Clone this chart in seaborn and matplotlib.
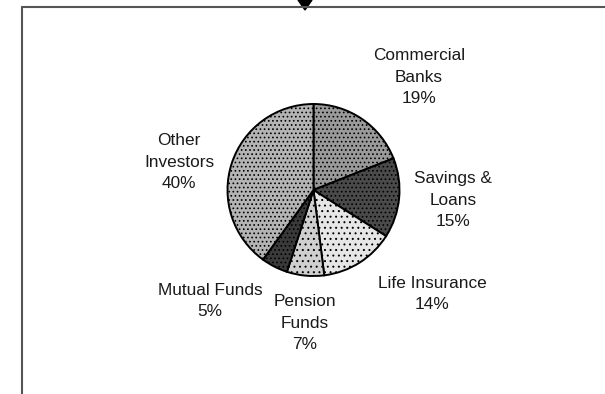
import matplotlib
matplotlib.use("Agg")
import matplotlib.pyplot as plt
import seaborn as sns
from matplotlib.lines import Line2D
from matplotlib.patches import Polygon

sns.set_style("white")
plt.rcParams['font.family'] = ['Liberation Sans', 'DejaVu Sans']
plt.rcParams['hatch.linewidth'] = 0.7

# Data
categories = ["Commercial\nBanks", "Savings &\nLoans", "Life Insurance", "Pension\nFunds", "Mutual Funds", "Other\nInvestors"]
shares = [19, 15, 14, 7, 5, 40]

# Style
face_colors = ["#9a9a9a", "#4a4a4a", "#e6e6e6", "#cfcfcf", "#3a3a3a", "#b4b4b4"]
hatches = ["....", "....", "...", "...", "....", "...."]
# label centres in pixel coordinates (x, y from top)
label_pos = [(419, 77), (453, 200), (432, 294), (305, 323), (210, 301), (179, 162)]

W, H = 605, 394
fig = plt.figure(figsize=(W / 100, H / 100), dpi=100)
ax = fig.add_axes([0, 0, 1, 1])

wedges, _ = ax.pie(shares, startangle=90, counterclock=False,
                   center=(313.5, H - 190), radius=86,
                   colors=face_colors,
                   wedgeprops=dict(edgecolor="black", linewidth=1.4))
for w, h in zip(wedges, hatches):
    w.set_hatch(h)

ax.set_xlim(0, W)
ax.set_ylim(0, H)
ax.set_aspect('equal')
ax.axis('off')

for cat, val, (px, py) in zip(categories, shares, label_pos):
    ax.text(px, H - py, f"{cat}\n{val}%", ha="center", va="center",
            fontsize=12.4, linespacing=1.54, color="#1a1a1a")

# frame lines (top and left)
ax.add_line(Line2D([22, W], [H - 7, H - 7], color="#555555", lw=1.5))
ax.add_line(Line2D([22, 22], [H - 7, 0], color="#555555", lw=1.5))
# arrow marker at top
ax.add_patch(Polygon([[298, H], [312, H], [305, H - 10]], closed=True, color="black"))

fig.savefig("out.png", dpi=100)
